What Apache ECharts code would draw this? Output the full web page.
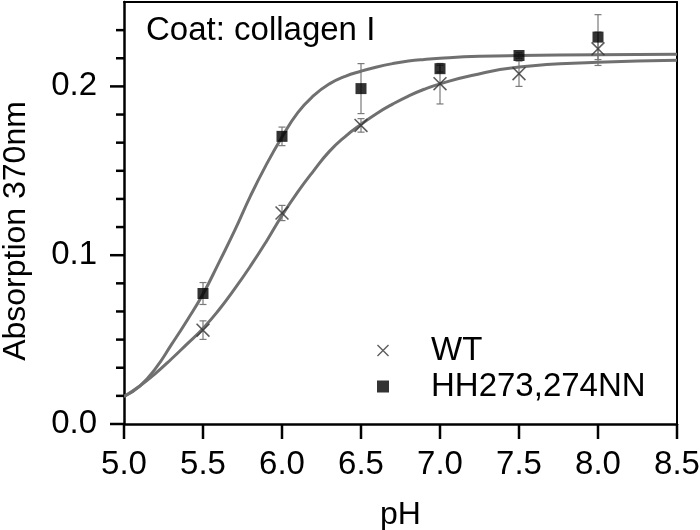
<!DOCTYPE html>
<html>
<head>
<meta charset="utf-8">
<script src="https://cdn.jsdelivr.net/npm/echarts@6/dist/echarts.min.js"></script>
<style>html,body{margin:0;padding:0;background:#fff;}#c{width:700px;height:530px;}</style>
</head>
<body>
<div id="c"></div>
<script>
// ---- data ----
const pH = [5.5, 6.0, 6.5, 7.0, 7.5, 8.0];
const wtValues = [0.0556, 0.125, 0.1769, 0.2016, 0.2075, 0.2223];
const wtErrors = [0.0055, 0.0045, 0.004, 0.012, 0.0075, 0.0099];
const hhValues = [0.0773, 0.1704, 0.1987, 0.2105, 0.2183, 0.2292];
const hhErrors = [0.0065, 0.0055, 0.0148, 0.002, 0.0016, 0.0133];
// fitted curves
const hhFit = [[5.0,0.0163],[5.1,0.0225],[5.2,0.033],[5.3,0.047],[5.4,0.0615],[5.5,0.077],[5.6,0.0955],[5.7,0.1145],[5.8,0.135],[5.9,0.1535],[6.0,0.170],[6.1,0.1845],[6.2,0.1945],[6.3,0.2015],[6.4,0.2060],[6.5,0.2090],[6.6,0.2115],[6.7,0.2135],[6.8,0.2150],[6.9,0.2160],[7.0,0.2167],[7.25,0.2178],[7.5,0.2183],[8.0,0.2188],[8.5,0.2190]];
const wtFit = [[5.0,0.0163],[5.1,0.0225],[5.2,0.030],[5.3,0.0385],[5.4,0.0475],[5.5,0.0566],[5.6,0.0675],[5.7,0.080],[5.8,0.0935],[5.9,0.108],[6.0,0.1235],[6.1,0.1375],[6.2,0.150],[6.3,0.1615],[6.4,0.1703],[6.5,0.1775],[6.6,0.1840],[6.7,0.1895],[6.8,0.1943],[6.9,0.1983],[7.0,0.2015],[7.2,0.2065],[7.5,0.2115],[8.0,0.2143],[8.5,0.2155]];
const seriesNames = ['WT', 'HH273,274NN'];
const xTicks = [5.0, 5.5, 6.0, 6.5, 7.0, 7.5, 8.0, 8.5];
const yMajorTicks = [0.0, 0.1, 0.2];
const yMinorTicks = [0.01667, 0.03333, 0.05, 0.06667, 0.08333, 0.11667, 0.13333, 0.15, 0.16667, 0.18333, 0.21667, 0.23333];
const xMin = 5, xMax = 8.5, yMin = 0, yMax = 0.25;
const titleText = 'Coat: collagen I';
const xName = 'pH';
const yName = 'Absorption 370nm';

const FONT = 'Liberation Sans, Arial, sans-serif';
const crossPath = 'path://M0,0.8L0.8,0L10,9.2L9.2,10Z M9.2,0L10,0.8L0.8,10L0,9.2Z';

function errData(vals, errs) {
  return pH.map((x, i) => [x, vals[i] - errs[i], vals[i] + errs[i]]);
}
function renderErr(params, api) {
  const x = api.value(0), lo = api.value(1), hi = api.value(2);
  const a = api.coord([x, lo]), b = api.coord([x, hi]);
  const cw = 3.5;
  const st = { stroke: '#7a7a7a', lineWidth: 1.2 };
  return { type: 'group', children: [
    { type: 'line', shape: { x1: a[0], y1: a[1], x2: b[0], y2: b[1] }, style: st },
    { type: 'line', shape: { x1: a[0]-cw, y1: a[1], x2: a[0]+cw, y2: a[1] }, style: st },
    { type: 'line', shape: { x1: b[0]-cw, y1: b[1], x2: b[0]+cw, y2: b[1] }, style: st }
  ]};
}
const frameAxis = {
  type: 'value', axisLine: { show: true, onZero: false, lineStyle: { color: '#000', width: 2 } },
  axisTick: { show: false }, axisLabel: { show: false }, splitLine: { show: false }
};

const chart = echarts.init(document.getElementById('c'), null, { renderer: 'canvas' });
chart.setOption({
  backgroundColor: '#fff',
  animation: false,
  textStyle: { fontFamily: FONT },
  title: { text: titleText, left: 146, top: 14, padding: 0,
    textStyle: { fontFamily: FONT, fontSize: 33, fontWeight: 'normal', color: '#000' } },
  grid: { left: 124, right: 23, top: 2, bottom: 106, outerBoundsMode: 'none' },
  legend: {
    data: [{ name: seriesNames[0], icon: crossPath }, { name: seriesNames[1], icon: 'rect' }],
    orient: 'vertical', left: 372, top: 329, itemWidth: 12, itemHeight: 12, itemGap: 3,
    textStyle: { fontFamily: FONT, fontSize: 33, color: '#000', padding: [0, 0, 0, 37] }
  },
  xAxis: [{
    type: 'value', min: xMin, max: xMax, interval: 0.5,
    name: xName, nameLocation: 'middle', nameGap: 75,
    nameTextStyle: { fontFamily: FONT, fontSize: 32, color: '#000' },
    axisLine: { show: true, onZero: false, lineStyle: { color: '#000', width: 2.5 } },
    axisTick: { show: false },
    axisLabel: { fontFamily: FONT, fontSize: 33, color: '#000', margin: 24, formatter: v => v.toFixed(1) },
    splitLine: { show: false }
  }, Object.assign({ position: 'top', min: xMin, max: xMax }, frameAxis)],
  yAxis: [{
    type: 'value', min: yMin, max: yMax, interval: 0.05, position: 'left',
    name: yName, nameLocation: 'middle', nameGap: 92,
    nameTextStyle: { fontFamily: FONT, fontSize: 32, color: '#000', padding: [0, 36, 0, 0] },
    axisLine: { show: true, onZero: false, lineStyle: { color: '#000', width: 2.5 } },
    axisTick: { show: false },
    axisLabel: { fontFamily: FONT, fontSize: 33, color: '#000', margin: 27, showMaxLabel: false,
      formatter: v => (yMajorTicks.some(t => Math.abs(t - v) < 1e-9) ? v.toFixed(1) : '') },
    splitLine: { show: false }
  }, Object.assign({ position: 'right', min: yMin, max: yMax }, frameAxis)],
  series: [
    { type: 'custom', name: 'errWT', renderItem: renderErr, data: errData(wtValues, wtErrors), encode: { x: 0, y: [1, 2] }, z: 1 },
    { type: 'custom', name: 'errHH', renderItem: renderErr, data: errData(hhValues, hhErrors), encode: { x: 0, y: [1, 2] }, z: 1 },
    { type: 'line', name: 'fitHH', data: hhFit, smooth: 0.5, showSymbol: false, symbol: 'none', lineStyle: { color: '#707070', width: 3 }, z: 2 },
    { type: 'line', name: 'fitWT', data: wtFit, smooth: 0.5, showSymbol: false, symbol: 'none', lineStyle: { color: '#707070', width: 3 }, z: 2 },
    { type: 'scatter', name: seriesNames[0], data: pH.map((x, i) => [x, wtValues[i]]), symbol: crossPath, symbolSize: 14, itemStyle: { color: '#333' }, z: 3 },
    { type: 'scatter', name: seriesNames[1], data: pH.map((x, i) => [x, hhValues[i]]), symbol: 'rect', symbolSize: 11, itemStyle: { color: '#000' }, z: 3 }
  ]
});

// tick marks placed through the chart's own scales
const tickStyle = { stroke: '#000', lineWidth: 2.5 };
const tickEls = [];
xTicks.forEach(v => {
  const p = chart.convertToPixel({ gridIndex: 0 }, [v, yMin]);
  tickEls.push({ type: 'line', silent: true, z: 100, shape: { x1: p[0], y1: p[1], x2: p[0], y2: p[1] + 15 }, style: tickStyle });
});
yMajorTicks.forEach(v => {
  const p = chart.convertToPixel({ gridIndex: 0 }, [xMin, v]);
  tickEls.push({ type: 'line', silent: true, z: 100, shape: { x1: p[0] - 14, y1: p[1], x2: p[0], y2: p[1] }, style: tickStyle });
});
yMinorTicks.forEach(v => {
  const p = chart.convertToPixel({ gridIndex: 0 }, [xMin, v]);
  tickEls.push({ type: 'line', silent: true, z: 100, shape: { x1: p[0] - 8, y1: p[1], x2: p[0], y2: p[1] }, style: tickStyle });
});
chart.setOption({ graphic: tickEls });
</script>
</body>
</html>
